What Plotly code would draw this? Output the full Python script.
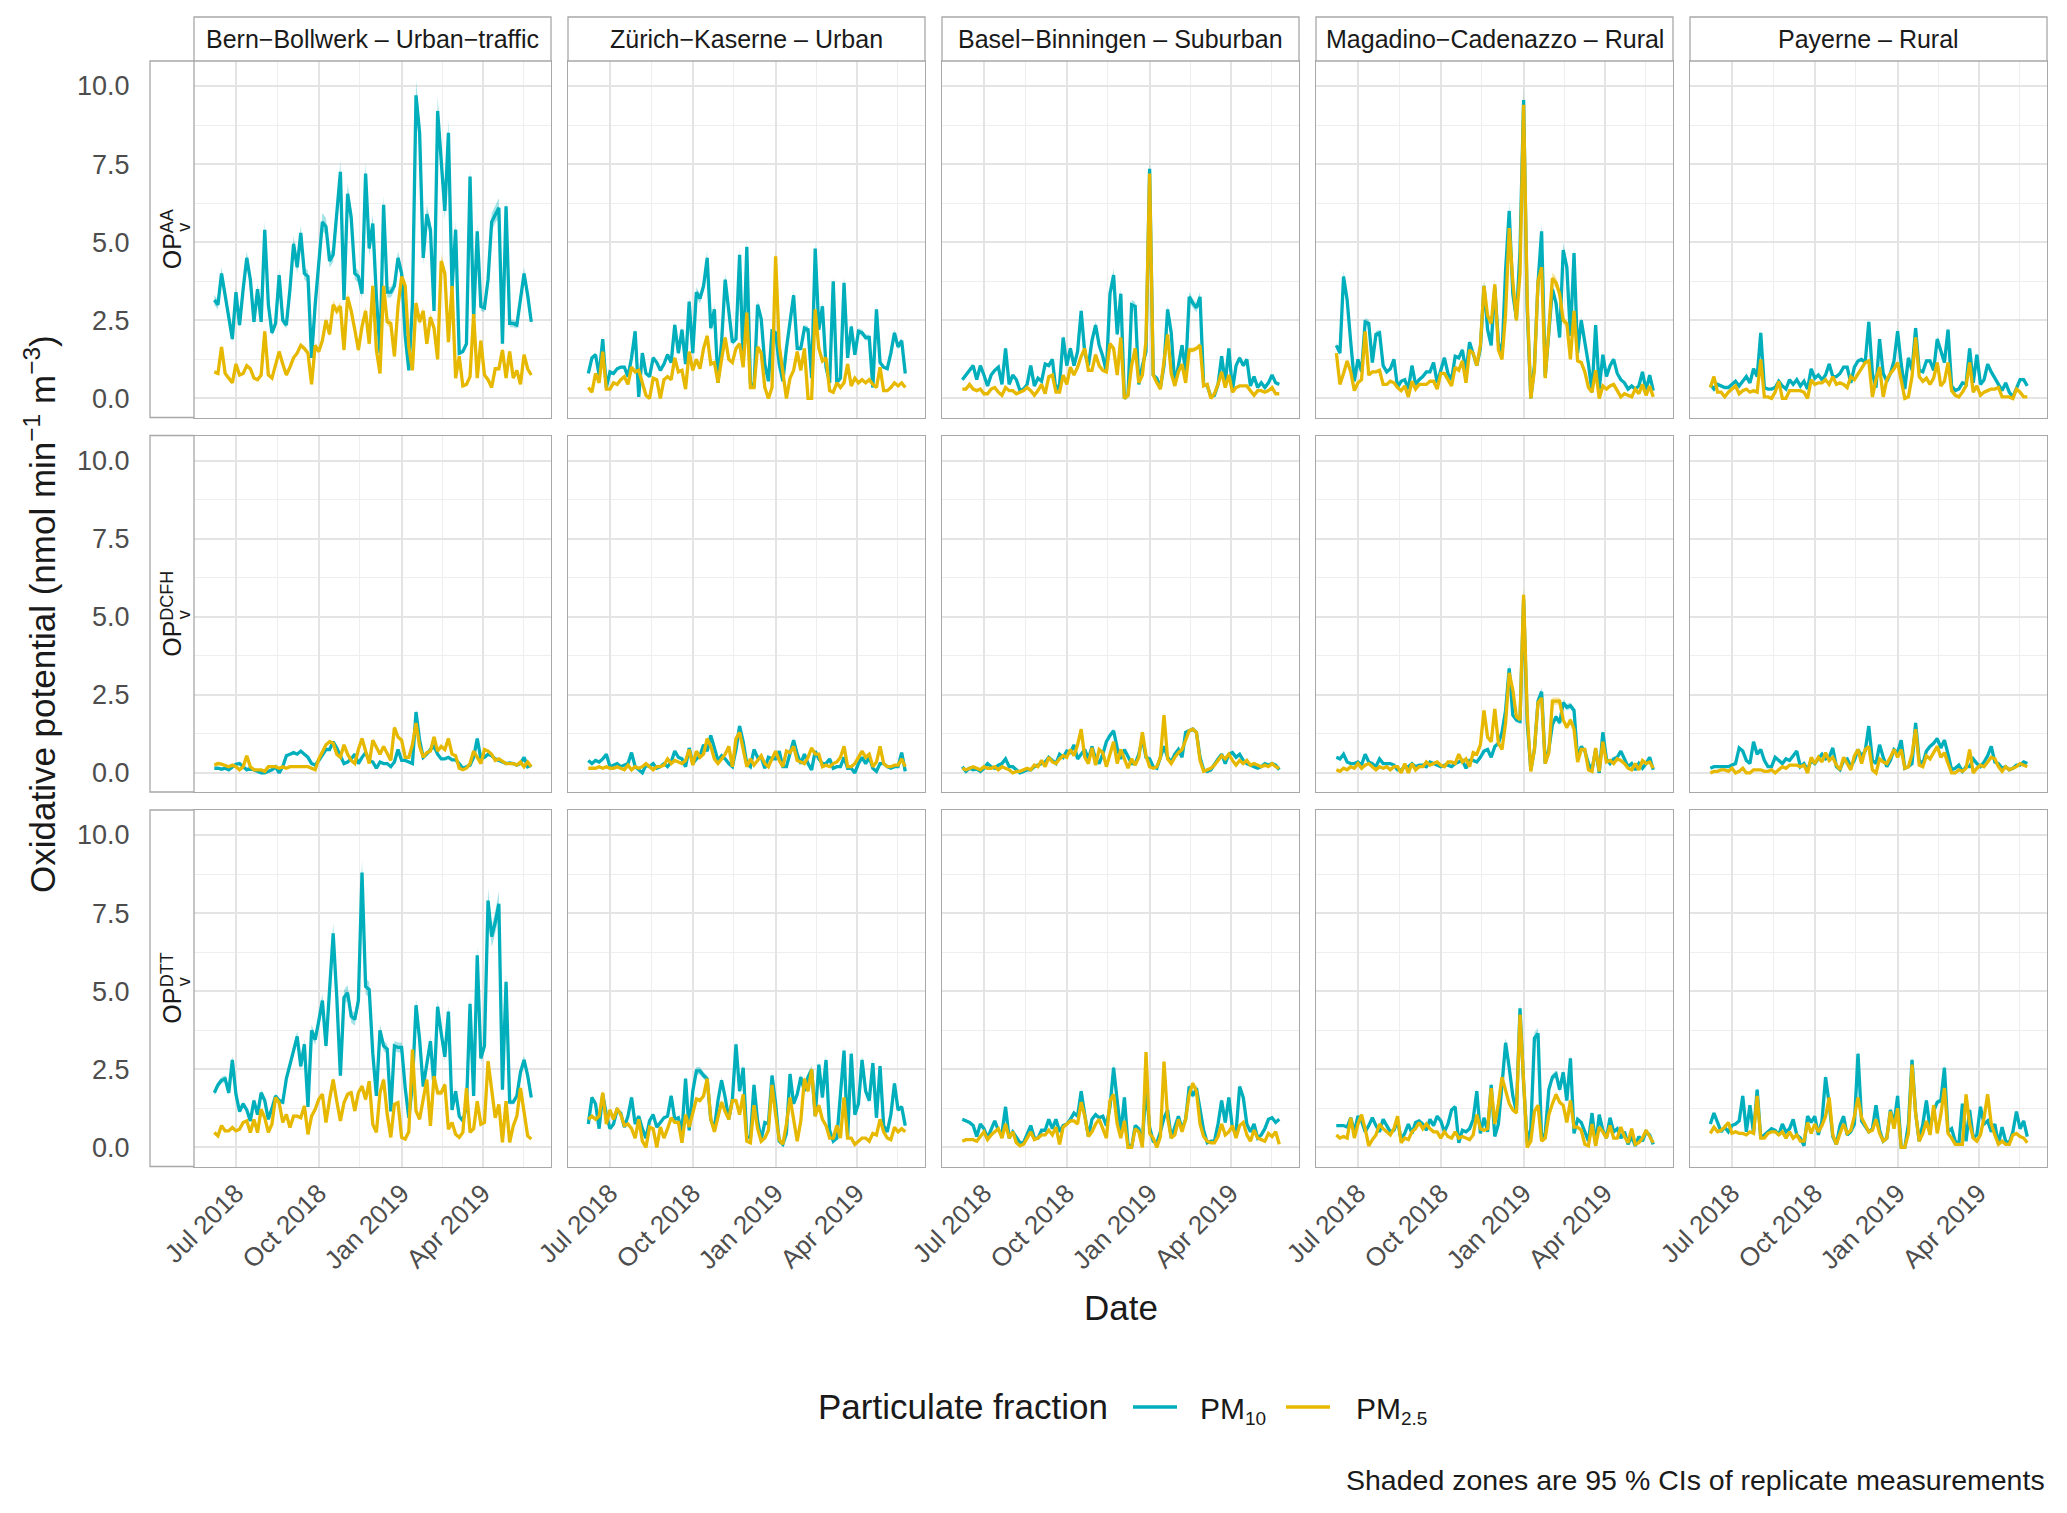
import pandas as pd
import plotly.graph_objects as go

W, H = 2067, 1513

# ---------------- data ----------------
DATES = pd.date_range("2018-06-07", periods=89, freq="4D")

SITES = ["Bern\u2212Bollwerk \u2013 Urban\u2212traffic",
         "Z\u00fcrich\u2212Kaserne \u2013 Urban",
         "Basel\u2212Binningen \u2013 Suburban",
         "Magadino\u2212Cadenazzo \u2013 Rural",
         "Payerne \u2013 Rural"]
ASSAYS = ["AA", "DCFH", "DTT"]
FRACTIONS = ["PM<sub>10</sub>", "PM<sub>2.5</sub>"]
FRACTION_SUBS = ["10", "2.5"]
Y_TICKS = [0.0, 2.5, 5.0, 7.5, 10.0]
X_TICKS = ["2018-07-01", "2018-10-01", "2019-01-01", "2019-04-01"]
CI_REL = 0.05  # approximate relative half-width of replicate CIs

BERN_AA_PM10 = [3.15, 3.0, 4.0, 3.3, 2.6, 1.9, 3.4, 2.35, 3.5, 4.5,
 3.8, 2.45, 3.5, 2.45, 5.4, 3.0, 2.1, 2.4, 3.95, 2.5,
 2.35, 3.5, 4.95, 4.2, 5.3, 4.0, 3.9, 1.3, 3.0, 4.2,
 5.65, 5.5, 4.4, 4.6, 6.0, 7.25, 3.15, 6.55, 5.8, 4.0,
 3.9, 3.35, 7.2, 4.8, 5.6, 3.25, 1.45, 6.2, 3.4, 3.4,
 3.6, 4.5, 4.0, 2.0, 0.9, 3.0, 9.7, 8.5, 4.5, 5.9,
 5.4, 2.8, 9.2, 7.6, 6.0, 8.5, 3.5, 5.4, 1.45, 1.5,
 1.75, 7.1, 2.55, 5.35, 2.95, 2.9, 3.8, 5.65, 5.9, 6.1,
 1.75, 6.15, 2.4, 2.4, 2.35, 3.2, 4.0, 3.3, 2.45]
BERN_AA_PM25 = [0.85, 0.8, 1.65, 0.8, 0.65, 0.5, 1.1, 0.75, 0.8, 1.05,
 0.95, 0.65, 0.6, 0.75, 2.15, 0.75, 0.65, 1.1, 1.5, 1.1,
 0.75, 1.0, 1.3, 1.45, 1.7, 1.6, 1.45, 0.45, 1.7, 1.5,
 1.85, 2.5, 2.05, 3.0, 2.8, 2.95, 1.55, 3.25, 2.8, 2.2,
 1.55, 2.3, 2.8, 1.75, 3.6, 1.55, 0.8, 3.6, 2.45, 2.4,
 1.35, 2.95, 3.9, 3.6, 1.65, 0.9, 3.05, 2.45, 2.8, 1.75,
 2.6, 2.25, 1.25, 4.4, 4.0, 1.8, 3.6, 0.65, 1.35, 0.4,
 0.45, 0.7, 2.7, 0.65, 1.85, 0.75, 0.6, 0.35, 0.95, 0.95,
 1.55, 0.65, 1.5, 0.65, 0.9, 0.45, 1.4, 0.95, 0.75]
BERN_DCFH_PM10 = [0.15, 0.15, 0.12, 0.15, 0.1, 0.2, 0.28, 0.3, 0.2, 0.1,
 0.15, 0.1, 0.05, 0.0, 0.0, 0.05, 0.1, 0.2, 0.0, 0.2,
 0.55, 0.6, 0.65, 0.6, 0.7, 0.6, 0.5, 0.3, 0.25, 0.4,
 0.6, 0.75, 0.75, 1.0, 0.8, 0.55, 0.3, 0.35, 0.45, 0.6,
 0.3, 0.5, 0.65, 0.4, 0.35, 0.15, 0.35, 0.3, 0.3, 0.2,
 0.35, 0.75, 0.4, 0.4, 0.35, 0.3, 1.95, 1.05, 0.5, 0.6,
 0.75, 0.85, 0.6, 0.45, 0.45, 0.5, 0.42, 0.42, 0.3, 0.15,
 0.2, 0.25, 0.5, 1.1, 0.45, 0.5, 0.6, 0.55, 0.45, 0.4,
 0.35, 0.3, 0.32, 0.3, 0.25, 0.3, 0.5, 0.2, 0.25]
BERN_DCFH_PM25 = [0.25, 0.3, 0.28, 0.25, 0.2, 0.25, 0.2, 0.1, 0.2, 0.55,
 0.2, 0.1, 0.1, 0.1, 0.05, 0.2, 0.2, 0.2, 0.15, 0.2,
 0.15, 0.2, 0.2, 0.2, 0.2, 0.2, 0.2, 0.15, 0.1, 0.45,
 0.7, 0.9, 1.0, 0.95, 0.6, 0.5, 0.9, 0.6, 0.4, 0.3,
 0.75, 1.1, 0.7, 0.3, 1.05, 0.8, 0.6, 0.85, 0.6, 0.4,
 1.45, 1.15, 1.05, 0.5, 0.5, 0.9, 1.6, 0.85, 0.5, 0.65,
 0.7, 1.15, 0.7, 0.85, 0.75, 1.1, 0.6, 0.55, 0.15, 0.1,
 0.15, 0.3, 0.7, 0.5, 0.3, 0.75, 0.7, 0.6, 0.4, 0.45,
 0.38, 0.3, 0.3, 0.3, 0.25, 0.35, 0.2, 0.35, 0.2]
BERN_DTT_PM10 = [1.75, 2.0, 2.15, 2.2, 1.75, 2.8, 1.7, 1.15, 1.4, 1.2,
 0.85, 1.5, 1.05, 1.75, 1.5, 0.9, 1.25, 1.65, 1.5, 1.45,
 2.2, 2.7, 3.1, 3.55, 2.6, 3.3, 1.3, 3.75, 3.45, 4.05,
 4.7, 3.25, 4.95, 6.85, 4.8, 2.3, 4.8, 4.95, 4.2, 4.1,
 4.7, 8.8, 5.15, 5.05, 3.0, 1.65, 3.75, 3.25, 3.15, 1.15,
 3.25, 3.2, 3.2, 1.9, 0.95, 2.0, 4.55, 3.45, 1.95, 2.7,
 3.4, 1.95, 4.5, 3.65, 2.9, 4.35, 1.2, 1.8, 1.0, 0.85,
 1.3, 4.6, 1.65, 6.15, 2.85, 3.25, 7.9, 6.75, 7.2, 7.8,
 1.85, 5.3, 1.45, 1.45, 1.65, 2.4, 2.8, 2.3, 1.6]
BERN_DTT_PM25 = [0.48, 0.37, 0.7, 0.53, 0.53, 0.64, 0.53, 0.58, 0.8, 0.85,
 0.48, 0.9, 0.48, 1.22, 0.95, 0.48, 0.75, 1.6, 1.43, 0.8,
 1.06, 0.64, 1.0, 1.0, 0.95, 1.33, 0.42, 1.0, 1.22, 1.54,
 1.7, 0.8, 1.54, 2.17, 1.48, 0.85, 1.43, 1.7, 1.75, 1.17,
 1.75, 1.96, 1.54, 2.12, 0.74, 0.48, 1.75, 2.17, 1.06, 0.32,
 1.38, 1.43, 0.32, 0.27, 0.5, 3.13, 1.17, 0.9, 1.54, 2.17,
 0.69, 2.28, 1.75, 1.75, 2.01, 0.58, 0.8, 0.42, 0.32, 0.48,
 1.9, 0.48, 0.6, 1.48, 0.74, 0.8, 2.76, 1.75, 0.95, 1.38,
 0.16, 1.48, 0.16, 0.69, 1.0, 1.9, 1.1, 0.37, 0.27]

ZURICH_AA_PM10 = [0.8, 1.3, 1.4, 0.75, 1.9, 0.35, 0.85, 0.8, 0.95, 1.0,
 1.0, 0.7, 1.3, 2.15, 0.05, 1.45, 0.8, 0.7, 1.3, 1.15,
 0.9, 1.1, 1.4, 1.15, 2.35, 1.45, 2.2, 1.1, 3.1, 1.45,
 3.4, 3.2, 3.6, 4.5, 2.25, 2.85, 0.5, 1.8, 3.8, 2.9,
 1.8, 1.9, 4.6, 1.1, 4.85, 0.5, 0.35, 3.0, 2.55, 1.1,
 0.55, 2.15, 2.1, 1.1, 0.55, 1.6, 2.5, 3.3, 1.6, 1.6,
 2.25, 2.2, 0.65, 4.8, 2.2, 2.95, 1.0, 0.5, 3.75, 0.5,
 0.65, 3.7, 1.3, 2.3, 1.4, 2.15, 2.1, 1.95, 1.95, 0.35,
 2.85, 1.15, 1.0, 0.95, 1.45, 2.1, 1.65, 1.85, 0.8]
ZURICH_AA_PM25 = [0.35, 0.2, 0.8, 0.5, 1.5, 0.3, 0.3, 0.5, 0.45, 0.6,
 0.7, 0.45, 1.0, 0.85, 0.9, 0.5, 0.1, 0.0, 0.65, 0.6,
 0.0, 0.6, 0.7, 0.6, 1.3, 0.85, 0.9, 0.3, 1.5, 0.9,
 1.25, 0.95, 1.6, 2.0, 1.1, 1.15, 0.5, 1.25, 1.95, 1.25,
 1.15, 1.6, 1.75, 1.0, 2.75, 0.35, 0.35, 1.65, 1.45, 0.35,
 0.0, 0.35, 4.55, 1.7, 0.75, 0.0, 0.65, 0.9, 1.5, 0.9,
 1.6, 0.0, 0.0, 2.85, 1.6, 1.2, 1.3, 0.25, 0.2, 0.5,
 0.35, 0.5, 1.1, 0.4, 0.65, 0.5, 0.6, 0.5, 0.6, 0.45,
 0.35, 1.0, 0.25, 0.25, 0.35, 0.5, 0.4, 0.5, 0.35]
ZURICH_DCFH_PM10 = [0.4, 0.3, 0.4, 0.35, 0.45, 0.6, 0.2, 0.25, 0.3, 0.2,
 0.25, 0.3, 0.65, 0.2, 0.1, 0.0, 0.25, 0.2, 0.3, 0.15,
 0.2, 0.3, 0.2, 0.35, 0.7, 0.5, 0.45, 0.2, 0.8, 0.3,
 0.45, 0.55, 0.9, 0.7, 1.2, 0.75, 0.4, 0.55, 0.45, 0.3,
 0.2, 0.75, 1.5, 1.0, 0.3, 0.2, 0.75, 0.5, 0.5, 0.15,
 0.5, 0.45, 0.45, 0.7, 0.2, 0.2, 0.6, 1.05, 0.6, 0.3,
 0.6, 0.3, 0.1, 0.7, 0.45, 0.3, 0.3, 0.45, 0.15, 0.2,
 0.2, 0.5, 0.15, 0.15, 0.0, 0.3, 0.5, 0.3, 0.5, 0.15,
 0.05, 0.3, 0.3, 0.2, 0.15, 0.2, 0.2, 0.65, 0.05]
ZURICH_DCFH_PM25 = [0.15, 0.15, 0.15, 0.2, 0.15, 0.2, 0.15, 0.15, 0.2, 0.15,
 0.1, 0.25, 0.1, 0.2, 0.15, 0.2, 0.3, 0.2, 0.1, 0.2,
 0.2, 0.25, 0.45, 0.3, 0.4, 0.35, 0.3, 0.4, 0.75, 0.25,
 0.7, 0.5, 0.6, 1.1, 0.85, 0.45, 0.3, 0.45, 0.6, 0.85,
 0.2, 1.1, 1.3, 0.75, 0.2, 0.45, 0.25, 0.4, 0.55, 0.3,
 0.2, 0.45, 0.7, 0.4, 0.2, 0.7, 0.65, 0.85, 0.4, 0.35,
 0.3, 0.5, 0.8, 0.6, 0.6, 0.2, 0.25, 0.2, 0.3, 0.35,
 0.5, 0.85, 0.2, 0.2, 0.3, 0.5, 0.7, 0.5, 0.6, 0.2,
 0.35, 0.85, 0.3, 0.2, 0.2, 0.25, 0.25, 0.45, 0.2]
ZURICH_DTT_PM10 = [0.75, 1.6, 1.4, 0.6, 1.7, 1.05, 0.6, 0.75, 1.2, 1.1,
 0.65, 1.0, 1.6, 0.75, 1.0, 0.6, 0.3, 0.85, 1.05, 0.65,
 0.8, 0.95, 1.0, 1.65, 0.9, 0.95, 0.5, 2.2, 0.55, 1.8,
 2.45, 2.45, 2.3, 2.2, 0.9, 0.6, 1.5, 2.15, 1.6, 0.9,
 1.55, 3.3, 1.8, 2.55, 0.35, 0.3, 2.0, 0.85, 0.25, 0.8,
 0.75, 2.3, 1.4, 0.2, 0.1, 0.45, 2.35, 1.4, 1.7, 2.25,
 1.8, 2.25, 2.5, 1.0, 2.65, 1.6, 2.8, 0.55, 0.2, 0.3,
 1.7, 3.1, 0.3, 3.0, 1.05, 1.4, 2.8, 1.8, 1.5, 2.7,
 0.95, 2.6, 0.7, 0.5, 1.05, 2.05, 1.2, 1.3, 0.7]
ZURICH_DTT_PM25 = [0.9, 1.0, 0.9, 1.0, 1.75, 0.75, 1.2, 0.9, 1.25, 1.05,
 0.7, 0.75, 0.6, 0.3, 0.9, 0.2, 0.0, 0.65, 0.6, 0.0,
 0.65, 0.3, 0.6, 0.95, 0.8, 0.8, 0.15, 1.05, 0.65, 1.1,
 1.55, 1.5, 1.65, 2.2, 0.9, 0.5, 1.0, 1.45, 1.15, 0.9,
 1.5, 1.5, 1.05, 1.7, 0.2, 0.15, 1.35, 0.6, 0.2, 0.3,
 0.55, 2.0, 1.05, 0.25, 0.1, 0.75, 1.6, 0.85, 0.2, 0.85,
 2.2, 1.8, 2.5, 1.0, 1.35, 0.9, 0.7, 0.3, 0.3, 0.7,
 0.3, 1.6, 0.3, 0.3, 0.1, 0.2, 0.3, 0.3, 0.2, 0.45,
 0.4, 0.9, 0.5, 0.3, 0.25, 0.65, 0.5, 0.6, 0.5]

BASEL_AA_PM10 = [0.6, 0.75, 0.9, 1.05, 0.6, 1.05, 0.75, 0.4, 0.75, 0.9,
 1.0, 0.45, 1.6, 0.45, 0.75, 0.6, 0.25, 0.3, 0.45, 1.05,
 0.4, 0.65, 0.55, 1.1, 1.05, 1.25, 0.25, 0.45, 1.95, 1.05,
 1.6, 1.05, 1.5, 2.8, 1.45, 1.05, 1.85, 2.35, 1.7, 1.35,
 0.85, 3.35, 3.95, 2.05, 3.35, 0.0, 0.1, 3.0, 2.95, 0.45,
 1.05, 1.5, 7.35, 0.75, 0.65, 0.35, 1.05, 2.85, 2.1, 0.45,
 1.05, 1.7, 0.85, 3.25, 3.05, 2.9, 3.25, 0.45, 0.4, 0.07,
 0.1, 0.45, 1.35, 0.5, 1.6, 0.25, 1.05, 1.3, 1.05, 1.25,
 0.4, 0.7, 0.35, 0.5, 0.35, 0.5, 0.75, 0.5, 0.45]
BASEL_AA_PM25 = [0.3, 0.3, 0.45, 0.3, 0.25, 0.3, 0.15, 0.15, 0.3, 0.35,
 0.2, 0.1, 0.35, 0.25, 0.25, 0.15, 0.2, 0.25, 0.35, 0.25,
 0.1, 0.25, 0.45, 0.15, 0.7, 0.75, 0.2, 0.2, 0.75, 0.45,
 1.0, 0.75, 1.0, 1.35, 1.6, 0.9, 0.9, 1.4, 1.05, 0.9,
 0.85, 1.75, 1.6, 0.75, 1.95, 0.0, 0.1, 1.05, 1.6, 0.5,
 0.75, 1.85, 7.2, 0.75, 0.5, 0.3, 1.2, 2.05, 0.8, 0.4,
 0.85, 1.1, 0.5, 1.55, 1.55, 1.6, 1.7, 0.4, 0.45, 0.0,
 0.15, 0.45, 0.85, 0.35, 0.75, 0.2, 0.35, 0.4, 0.4, 0.4,
 0.25, 0.1, 0.25, 0.25, 0.2, 0.25, 0.35, 0.15, 0.15]
BASEL_DCFH_PM10 = [0.2, 0.05, 0.15, 0.1, 0.12, 0.05, 0.15, 0.3, 0.2, 0.15,
 0.25, 0.3, 0.45, 0.2, 0.2, 0.1, 0.0, 0.05, 0.1, 0.1,
 0.2, 0.25, 0.3, 0.35, 0.5, 0.4, 0.3, 0.6, 0.5, 0.7,
 0.65, 0.9, 0.45, 0.6, 0.75, 0.45, 0.85, 0.45, 0.3, 0.6,
 1.0, 1.2, 1.35, 0.8, 0.45, 0.75, 0.5, 0.3, 0.3, 0.6,
 1.1, 0.5, 0.45, 0.2, 0.15, 0.5, 0.85, 0.5, 0.35, 0.6,
 0.75, 0.5, 1.3, 1.35, 1.4, 1.3, 0.5, 0.1, 0.05, 0.1,
 0.3, 0.45, 0.6, 0.3, 0.6, 0.65, 0.5, 0.6, 0.4, 0.3,
 0.25, 0.2, 0.15, 0.2, 0.3, 0.25, 0.3, 0.25, 0.1]
BASEL_DCFH_PM25 = [0.15, 0.1, 0.15, 0.2, 0.15, 0.1, 0.2, 0.15, 0.15, 0.2,
 0.1, 0.2, 0.15, 0.1, 0.0, 0.05, 0.05, 0.1, 0.15, 0.1,
 0.25, 0.2, 0.4, 0.2, 0.5, 0.35, 0.3, 0.45, 0.55, 0.5,
 0.75, 0.55, 0.9, 1.4, 0.5, 0.3, 0.8, 0.25, 0.75, 0.65,
 0.2, 0.6, 1.0, 0.3, 0.75, 0.45, 0.15, 0.45, 0.25, 0.5,
 1.3, 0.55, 0.2, 0.15, 0.2, 0.5, 1.85, 0.45, 0.3, 0.5,
 0.65, 0.75, 1.05, 1.35, 1.4, 1.3, 0.4, 0.05, 0.1, 0.15,
 0.25, 0.4, 0.55, 0.45, 0.6, 0.4, 0.25, 0.4, 0.3, 0.4,
 0.25, 0.3, 0.25, 0.2, 0.25, 0.2, 0.3, 0.2, 0.15]
BASEL_DTT_PM10 = [0.9, 0.85, 0.8, 0.7, 0.35, 0.75, 0.6, 0.3, 0.55, 0.85,
 0.55, 0.45, 1.3, 0.3, 0.5, 0.3, 0.15, 0.15, 0.45, 0.7,
 0.3, 0.3, 0.55, 0.55, 0.9, 0.6, 0.9, 0.5, 0.7, 0.75,
 0.9, 1.1, 1.0, 1.8, 1.05, 0.35, 0.9, 1.05, 0.95, 1.0,
 0.7, 1.3, 2.55, 1.45, 0.45, 1.6, 0.1, 0.0, 0.7, 0.6,
 0.2, 1.9, 0.65, 0.2, 0.15, 0.5, 0.95, 1.2, 0.3, 0.65,
 1.0, 0.6, 0.9, 1.95, 1.65, 1.9, 1.15, 0.55, 0.15, 0.2,
 0.2, 0.75, 1.5, 0.8, 1.6, 0.6, 0.5, 1.95, 1.6, 0.75,
 0.5, 0.75, 0.3, 0.4, 0.6, 0.9, 0.95, 0.8, 0.9]
BASEL_DTT_PM25 = [0.2, 0.25, 0.25, 0.25, 0.2, 0.35, 0.5, 0.25, 0.4, 0.5,
 0.6, 0.3, 0.75, 0.3, 0.5, 0.15, 0.05, 0.1, 0.3, 0.5,
 0.25, 0.3, 0.4, 0.4, 0.55, 0.4, 0.65, 0.1, 0.65, 0.75,
 0.85, 0.85, 0.75, 1.45, 1.0, 0.35, 0.5, 0.75, 0.9, 0.6,
 0.3, 1.5, 1.7, 0.75, 0.3, 0.85, 0.0, 0.0, 0.6, 0.5,
 0.0, 3.05, 0.45, 0.3, 0.0, 0.35, 2.75, 0.95, 0.3, 0.4,
 0.9, 0.5, 0.9, 1.7, 2.05, 1.8, 0.75, 0.35, 0.2, 0.15,
 0.15, 0.35, 0.75, 0.4, 0.5, 0.7, 0.3, 0.7, 0.8, 0.4,
 0.2, 0.55, 0.3, 0.25, 0.2, 0.45, 0.35, 0.5, 0.1]

MAGADINO_AA_PM10 = [1.7, 1.45, 3.9, 3.15, 1.8, 0.55, 1.25, 0.85, 2.45, 2.4,
 1.15, 2.05, 2.1, 1.05, 0.85, 0.95, 1.25, 0.35, 0.55, 0.6,
 0.3, 1.05, 0.45, 0.6, 0.7, 0.85, 0.85, 1.15, 0.5, 0.9,
 1.3, 0.8, 0.6, 1.35, 1.3, 1.55, 0.85, 1.8, 1.4, 1.05,
 1.6, 3.6, 2.2, 1.7, 3.55, 1.8, 1.4, 4.1, 6.0, 3.35,
 2.55, 4.75, 9.55, 2.85, 0.0, 1.05, 3.7, 5.35, 0.7, 2.2,
 3.5, 3.05, 1.95, 4.75, 4.2, 2.0, 4.65, 1.45, 2.5, 1.8,
 1.1, 0.2, 2.35, 0.3, 1.4, 0.7, 1.05, 1.25, 0.8, 0.6,
 0.5, 0.3, 0.4, 0.3, 0.4, 0.85, 0.25, 0.75, 0.25]
MAGADINO_AA_PM25 = [1.45, 0.45, 0.8, 1.2, 0.85, 0.25, 0.5, 0.6, 2.15, 0.75,
 0.85, 0.85, 0.9, 0.45, 0.45, 0.55, 0.5, 0.35, 0.25, 0.4,
 0.05, 0.55, 0.3, 0.45, 0.45, 0.45, 0.55, 0.55, 0.3, 0.8,
 0.8, 0.6, 0.4, 1.0, 0.9, 1.2, 0.5, 1.55, 1.45, 1.05,
 1.7, 3.6, 2.65, 2.4, 3.65, 1.55, 1.25, 2.7, 5.45, 3.75,
 2.5, 4.0, 9.4, 3.15, 0.0, 0.9, 3.75, 4.2, 0.65, 2.2,
 3.85, 3.7, 3.35, 2.5, 2.4, 1.25, 2.8, 1.2, 1.15, 0.85,
 0.35, 0.2, 0.9, 0.0, 0.4, 0.3, 0.4, 0.45, 0.25, 0.05,
 0.15, 0.1, 0.05, 0.3, 0.15, 0.45, 0.1, 0.4, 0.05]
MAGADINO_DCFH_PM10 = [0.5, 0.45, 0.6, 0.35, 0.3, 0.3, 0.35, 0.25, 0.6, 0.35,
 0.3, 0.2, 0.45, 0.3, 0.3, 0.3, 0.25, 0.1, 0.1, 0.2,
 0.2, 0.3, 0.2, 0.25, 0.25, 0.2, 0.35, 0.3, 0.25, 0.2,
 0.25, 0.25, 0.2, 0.3, 0.35, 0.4, 0.15, 0.4, 0.4, 0.35,
 0.5, 0.7, 0.75, 0.5, 0.85, 0.95, 1.3, 2.0, 3.35, 1.85,
 1.7, 1.65, 5.55, 1.6, 0.1, 0.75, 2.3, 2.6, 0.3, 0.75,
 1.55, 1.8, 1.6, 2.25, 2.1, 2.15, 2.0, 0.45, 0.85, 0.7,
 0.3, 0.1, 0.75, 0.0, 1.3, 0.45, 0.3, 0.45, 0.5, 0.7,
 0.45, 0.2, 0.3, 0.1, 0.3, 0.15, 0.3, 0.5, 0.1]
MAGADINO_DCFH_PM25 = [0.1, 0.05, 0.15, 0.1, 0.2, 0.15, 0.3, 0.15, 0.25, 0.3,
 0.2, 0.1, 0.2, 0.15, 0.2, 0.1, 0.2, 0.2, 0.0, 0.3,
 0.0, 0.3, 0.1, 0.2, 0.2, 0.35, 0.25, 0.3, 0.35, 0.25,
 0.2, 0.35, 0.35, 0.3, 0.6, 0.35, 0.45, 0.2, 0.65, 0.6,
 0.9, 2.0, 1.15, 1.0, 2.05, 0.95, 0.75, 1.6, 3.2, 2.65,
 1.8, 1.7, 5.7, 1.9, 0.05, 0.75, 2.25, 2.4, 0.3, 0.65,
 2.3, 2.3, 2.3, 1.7, 1.45, 1.7, 1.4, 0.35, 0.75, 0.75,
 0.1, 0.05, 0.8, 0.05, 1.0, 0.35, 0.4, 0.3, 0.45, 0.4,
 0.3, 0.15, 0.1, 0.3, 0.1, 0.4, 0.3, 0.35, 0.15]
MAGADINO_DTT_PM10 = [0.7, 0.7, 0.7, 0.65, 0.95, 0.5, 1.0, 0.85, 0.5, 0.7,
 0.95, 0.7, 0.5, 0.9, 0.7, 0.5, 0.55, 0.85, 0.25, 0.45,
 0.75, 0.45, 0.8, 0.85, 0.75, 0.55, 0.9, 0.7, 1.0, 0.85,
 0.5, 0.75, 1.2, 1.3, 0.15, 0.55, 0.5, 0.6, 0.9, 1.8,
 0.45, 0.95, 0.5, 2.0, 0.35, 0.75, 2.0, 3.35, 2.55, 1.65,
 1.15, 4.45, 2.05, 0.15, 0.6, 3.5, 3.65, 0.25, 0.45, 1.85,
 2.25, 2.35, 1.85, 2.4, 1.5, 2.85, 0.45, 0.9, 0.8, 0.5,
 0.2, 1.1, 0.1, 1.05, 0.55, 0.3, 0.95, 0.5, 0.6, 0.3,
 0.5, 0.1, 0.35, 0.05, 0.35, 0.2, 0.5, 0.4, 0.1]
MAGADINO_DTT_PM25 = [0.4, 0.3, 0.35, 0.3, 0.95, 0.3, 0.75, 1.05, 0.6, 0.05,
 0.25, 0.4, 0.75, 0.6, 0.5, 0.4, 0.6, 1.0, 0.15, 0.3,
 0.25, 0.5, 0.6, 0.8, 0.6, 0.75, 0.6, 0.5, 0.5, 0.3,
 0.5, 0.35, 0.3, 0.5, 0.3, 0.35, 0.3, 0.25, 0.4, 1.05,
 0.6, 0.55, 0.6, 1.9, 0.75, 1.4, 2.25, 1.85, 1.4, 1.2,
 1.1, 4.25, 1.85, 0.0, 0.2, 1.15, 1.35, 0.2, 0.3, 1.05,
 1.4, 1.7, 1.45, 1.35, 0.8, 1.5, 0.65, 0.65, 0.55, 0.1,
 0.05, 0.75, 0.05, 0.65, 0.5, 0.3, 0.7, 0.3, 0.3, 0.65,
 0.35, 0.15, 0.6, 0.1, 0.15, 0.3, 0.55, 0.35, 0.15]

PAYERNE_AA_PM10 = [0.45, 0.3, 0.45, 0.4, 0.35, 0.35, 0.45, 0.55, 0.4, 0.55,
 0.7, 0.5, 0.95, 0.7, 2.1, 0.35, 0.3, 0.3, 0.35, 0.55,
 0.4, 0.3, 0.6, 0.45, 0.6, 0.4, 0.55, 0.3, 0.95, 0.65,
 0.75, 0.6, 0.75, 1.1, 0.7, 0.7, 0.8, 1.0, 1.0, 0.5,
 1.0, 1.2, 1.25, 1.15, 2.45, 0.8, 0.35, 1.9, 0.8, 0.55,
 0.8, 1.2, 2.15, 1.1, 0.3, 1.3, 0.9, 2.25, 0.9, 0.85,
 1.2, 1.2, 0.9, 1.9, 1.55, 1.15, 2.2, 0.4, 0.25, 0.3,
 0.5, 0.45, 1.6, 0.5, 1.4, 0.45, 0.6, 1.1, 0.85, 0.65,
 0.5, 0.25, 0.5, 0.2, 0.05, 0.3, 0.6, 0.6, 0.4]
PAYERNE_AA_PM25 = [0.35, 0.7, 0.2, 0.2, 0.05, 0.2, 0.3, 0.4, 0.15, 0.25,
 0.3, 0.2, 0.25, 0.2, 1.25, 0.05, 0.05, 0.0, 0.2, 0.55,
 0.0, 0.0, 0.25, 0.25, 0.25, 0.25, 0.2, 0.0, 0.6, 0.45,
 0.5, 0.5, 0.6, 0.45, 0.7, 0.45, 0.5, 0.45, 0.35, 0.7,
 0.6, 0.8, 0.95, 1.15, 1.2, 0.05, 0.6, 1.0, 0.05, 0.6,
 0.8, 0.95, 1.15, 0.6, 0.0, 0.05, 0.7, 1.95, 0.7, 0.55,
 0.65, 0.45, 0.65, 1.15, 0.4, 0.55, 1.15, 0.25, 0.1, 0.05,
 0.2, 0.4, 1.15, 0.2, 0.4, 0.1, 0.2, 0.25, 0.3, 0.3,
 0.35, 0.05, 0.05, 0.05, 0.0, 0.3, 0.2, 0.05, 0.05]
PAYERNE_DCFH_PM10 = [0.15, 0.2, 0.2, 0.2, 0.2, 0.2, 0.25, 0.3, 0.8, 0.7,
 0.4, 0.3, 1.0, 0.6, 0.75, 0.4, 0.2, 0.2, 0.5, 0.4,
 0.3, 0.45, 0.4, 0.55, 0.7, 0.2, 0.3, 0.1, 0.4, 0.3,
 0.45, 0.6, 0.45, 0.5, 0.8, 0.2, 0.1, 0.4, 0.45, 0.2,
 0.4, 0.75, 0.55, 0.7, 1.5, 0.4, 0.3, 0.9, 0.5, 0.2,
 0.4, 0.75, 0.65, 1.05, 0.15, 0.2, 0.3, 1.6, 0.4, 0.3,
 0.7, 0.85, 0.95, 1.1, 0.8, 1.05, 0.6, 0.1, 0.15, 0.25,
 0.05, 0.2, 0.2, 0.45, 0.3, 0.2, 0.35, 0.55, 0.85, 0.35,
 0.3, 0.15, 0.2, 0.1, 0.15, 0.25, 0.25, 0.35, 0.3]
PAYERNE_DCFH_PM25 = [0.0, 0.05, 0.05, 0.1, 0.1, 0.05, 0.15, 0.0, 0.05, 0.15,
 0.0, 0.0, 0.1, 0.1, 0.1, 0.05, 0.05, 0.1, 0.0, 0.1,
 0.2, 0.15, 0.25, 0.25, 0.25, 0.2, 0.25, 0.0, 0.5, 0.3,
 0.5, 0.35, 0.65, 0.4, 0.5, 0.25, 0.1, 0.5, 0.3, 0.1,
 0.55, 0.75, 0.3, 0.75, 0.85, 0.1, 0.0, 0.45, 0.35, 0.3,
 0.5, 0.75, 0.5, 0.75, 0.15, 0.2, 0.6, 1.4, 0.25, 0.2,
 0.55, 0.45, 0.65, 0.85, 0.5, 0.65, 0.3, 0.0, 0.0, 0.1,
 0.05, 0.15, 0.75, 0.0, 0.15, 0.25, 0.2, 0.35, 0.5, 0.45,
 0.2, 0.05, 0.2, 0.1, 0.15, 0.2, 0.3, 0.25, 0.2]
PAYERNE_DTT_PM10 = [0.75, 1.1, 0.8, 0.5, 0.65, 0.5, 0.7, 0.75, 0.85, 1.65,
 0.5, 1.35, 0.45, 1.85, 0.3, 0.4, 0.5, 0.6, 0.55, 0.4,
 0.75, 0.5, 0.6, 0.9, 0.4, 0.3, 0.05, 1.0, 0.8, 1.0,
 0.4, 0.85, 2.25, 1.4, 0.35, 0.1, 0.7, 1.0, 0.4, 0.5,
 0.75, 3.0, 0.85, 0.65, 0.5, 0.6, 1.35, 0.55, 0.2, 0.3,
 1.2, 0.75, 1.65, 0.0, 0.0, 0.75, 2.8, 1.1, 0.2, 0.75,
 1.5, 0.6, 1.15, 1.45, 1.5, 2.55, 0.5, 0.6, 0.2, 0.1,
 1.4, 0.2, 1.2, 0.3, 0.4, 1.3, 0.75, 0.85, 0.5, 0.75,
 0.1, 0.65, 0.2, 0.15, 0.5, 1.15, 0.6, 0.85, 0.35]
PAYERNE_DTT_PM25 = [0.45, 0.65, 0.5, 0.55, 0.65, 0.8, 0.45, 0.5, 0.45, 0.45,
 0.4, 0.5, 0.45, 1.65, 0.3, 0.3, 0.45, 0.5, 0.5, 0.4,
 0.5, 0.3, 0.5, 0.3, 0.4, 0.2, 0.2, 0.8, 0.45, 0.75,
 0.5, 0.7, 1.0, 1.6, 0.4, 0.1, 0.45, 0.75, 0.45, 0.55,
 1.0, 1.6, 0.95, 0.75, 0.5, 0.55, 0.9, 0.45, 0.2, 0.3,
 1.15, 0.6, 1.25, 0.0, 0.0, 0.45, 2.65, 1.1, 0.2, 0.45,
 0.85, 0.4, 1.35, 0.45, 1.05, 1.9, 0.45, 0.3, 0.1, 0.1,
 0.1, 1.7, 0.75, 0.3, 0.2, 0.4, 0.95, 1.7, 0.75, 0.4,
 0.1, 0.2, 0.1, 0.1, 0.4, 0.45, 0.35, 0.3, 0.15]

# table built from the named arrays: SERIES[site][assay] = (PM10, PM2.5)
SERIES = [
    [(BERN_AA_PM10, BERN_AA_PM25), (BERN_DCFH_PM10, BERN_DCFH_PM25), (BERN_DTT_PM10, BERN_DTT_PM25)],
    [(ZURICH_AA_PM10, ZURICH_AA_PM25), (ZURICH_DCFH_PM10, ZURICH_DCFH_PM25), (ZURICH_DTT_PM10, ZURICH_DTT_PM25)],
    [(BASEL_AA_PM10, BASEL_AA_PM25), (BASEL_DCFH_PM10, BASEL_DCFH_PM25), (BASEL_DTT_PM10, BASEL_DTT_PM25)],
    [(MAGADINO_AA_PM10, MAGADINO_AA_PM25), (MAGADINO_DCFH_PM10, MAGADINO_DCFH_PM25), (MAGADINO_DTT_PM10, MAGADINO_DTT_PM25)],
    [(PAYERNE_AA_PM10, PAYERNE_AA_PM25), (PAYERNE_DCFH_PM10, PAYERNE_DCFH_PM25), (PAYERNE_DTT_PM10, PAYERNE_DTT_PM25)],
]

# ---------------- style / layout ----------------
FONT = "Liberation Sans, Arial, Helvetica, sans-serif"
COLORS = ["#00AFBB", "#E7B800"]
FILLS = ["rgba(0,175,187,0.35)", "rgba(231,184,0,0.35)"]
BORDER = "#a8a8a8"
GRID = "#e4e4e4"
GRID_MINOR = "#eeeeee"
TXT = "#1a1a1a"
TICK_TXT = "#4d4d4d"

PAGE_OFFSET = 8  # the page body margin shifts the figure by this much
COL_LEFT = [194 + c * 374 for c in range(5)]
PANEL_W = 357
ROW_TOP = [61, 435.5, 810]
PANEL_H = 356.5
STRIP_TOP = 17
STRIP_LEFT = 150

CHAR_W = {"O": .778, "P": .667, "A": .667, "D": .722, "C": .722,
          "F": .611, "H": .722, "T": .611}


def text_len(s, size):
    return sum(CHAR_W[ch] for ch in s) * size


def px(x):
    return (x - PAGE_OFFSET) / W


def py(y):
    return 1 - (y - PAGE_OFFSET) / H


fig = go.Figure()
layout_axes = {}

for r, assay in enumerate(ASSAYS):
    for c, site in enumerate(SITES):
        n = r * 5 + c + 1
        xa = "x" if n == 1 else f"x{n}"
        ya = "y" if n == 1 else f"y{n}"
        xk = "xaxis" if n == 1 else f"xaxis{n}"
        yk = "yaxis" if n == 1 else f"yaxis{n}"
        layout_axes[xk] = dict(
            domain=[px(COL_LEFT[c]), px(COL_LEFT[c] + PANEL_W)],
            anchor=ya, type="date", automargin=False,
            range=["2018-05-15 10:00", "2019-06-15 22:00"],
            tickmode="array", tickvals=X_TICKS, tickformat="%b %Y",
            showticklabels=(r == 2), tickangle=-45,
            tickfont=dict(size=26, color=TICK_TXT, family=FONT),
            ticks="", showgrid=True, gridcolor=GRID, gridwidth=2.4,
            minor=dict(tickmode="array",
                       tickvals=["2018-08-16", "2018-11-15", "2019-02-15", "2019-05-16"],
                       showgrid=True, gridcolor=GRID_MINOR, gridwidth=1.4),
            showline=True, mirror=True, linecolor=BORDER, linewidth=1.3,
            zeroline=False, fixedrange=True,
        )
        layout_axes[yk] = dict(
            domain=[py(ROW_TOP[r] + PANEL_H), py(ROW_TOP[r])],
            anchor=xa, range=[-0.61, 10.80], automargin=False,
            tickmode="array", tickvals=Y_TICKS, tickformat=".1f",
            showticklabels=(c == 0), ticklabelstandoff=58,
            tickfont=dict(size=27, color=TICK_TXT, family=FONT),
            ticks="", showgrid=True, gridcolor=GRID, gridwidth=2.4,
            minor=dict(tickmode="array", tickvals=[1.25, 3.75, 6.25, 8.75],
                       showgrid=True, gridcolor=GRID_MINOR, gridwidth=1.4),
            showline=True, mirror=True, linecolor=BORDER, linewidth=1.3,
            zeroline=False, fixedrange=True,
        )
        pair = SERIES[c][r]
        # shaded CI zones
        for k, vals in enumerate(pair):
            d = list(DATES[:len(vals)])
            hi = [v * (1 + CI_REL) for v in vals]
            lo = [v * (1 - CI_REL) for v in vals]
            fig.add_trace(go.Scatter(
                x=d + d[::-1], y=hi + lo[::-1], xaxis=xa, yaxis=ya,
                mode="lines", line=dict(width=0), fill="toself",
                fillcolor=FILLS[k], showlegend=False, hoverinfo="skip"))
        for k, vals in enumerate(pair):
            d = list(DATES[:len(vals)])
            fig.add_trace(go.Scatter(
                x=d, y=vals, xaxis=xa, yaxis=ya, mode="lines",
                line=dict(color=COLORS[k], width=3.3),
                name=FRACTIONS[k], showlegend=False))

shapes = []
annotations = []
# top strips
for c, site in enumerate(SITES):
    shapes.append(dict(type="rect", xref="paper", yref="paper",
                       x0=px(COL_LEFT[c]), x1=px(COL_LEFT[c] + PANEL_W),
                       y0=py(ROW_TOP[0]), y1=py(STRIP_TOP),
                       line=dict(color=BORDER, width=1.3), fillcolor="white"))
    annotations.append(dict(xref="paper", yref="paper",
                            x=px(COL_LEFT[c] + PANEL_W / 2), y=py((STRIP_TOP + ROW_TOP[0]) / 2),
                            text=site, showarrow=False, xanchor="center", yanchor="middle",
                            font=dict(size=25, color=TXT, family=FONT)))
# left strips: OP with subscript v and superscript assay stacked
OP_SIZE, SCRIPT_SIZE = 25, 18
for r, assay in enumerate(ASSAYS):
    shapes.append(dict(type="rect", xref="paper", yref="paper",
                       x0=px(STRIP_LEFT), x1=px(COL_LEFT[0]),
                       y0=py(ROW_TOP[r] + PANEL_H), y1=py(ROW_TOP[r]),
                       line=dict(color=BORDER, width=1.3), fillcolor="white"))
    cy = ROW_TOP[r] + PANEL_H / 2
    l_op = text_len("OP", OP_SIZE)
    l_sup = text_len(assay, SCRIPT_SIZE)
    start = cy + (l_op + l_sup) / 2
    annotations.append(dict(xref="paper", yref="paper", x=px(172), y=py(start - l_op / 2),
                            text="OP", textangle=-90, showarrow=False,
                            xanchor="center", yanchor="middle",
                            font=dict(size=OP_SIZE, color=TXT, family=FONT)))
    annotations.append(dict(xref="paper", yref="paper", x=px(167), y=py(start - l_op - l_sup / 2),
                            text=assay, textangle=-90, showarrow=False,
                            xanchor="center", yanchor="middle",
                            font=dict(size=SCRIPT_SIZE, color=TXT, family=FONT)))
    annotations.append(dict(xref="paper", yref="paper", x=px(184), y=py(start - l_op - 5.5),
                            text="v", textangle=-90, showarrow=False,
                            xanchor="center", yanchor="middle",
                            font=dict(size=SCRIPT_SIZE, color=TXT, family=FONT)))

annotations.append(dict(xref="paper", yref="paper", x=px(40), y=py(614),
                        text="Oxidative potential (nmol min<sup>\u22121</sup> m<sup>\u22123</sup>)",
                        textangle=-90, showarrow=False, xanchor="center", yanchor="middle",
                        font=dict(size=35, color=TXT, family=FONT)))
annotations.append(dict(xref="paper", yref="paper", x=px(1121), y=py(1307),
                        text="Date", showarrow=False, xanchor="center", yanchor="middle",
                        font=dict(size=35, color=TXT, family=FONT)))
annotations.append(dict(xref="paper", yref="paper", x=px(2047), y=py(1480),
                        text="Shaded zones are 95 % CIs of replicate measurements",
                        showarrow=False, xanchor="right", yanchor="middle",
                        font=dict(size=28.5, color=TXT, family=FONT)))

# legend (drawn by hand to match the key layout)
LEG_Y = 1406
annotations.append(dict(xref="paper", yref="paper", x=px(816), y=py(LEG_Y),
                        text="Particulate fraction", showarrow=False,
                        xanchor="left", yanchor="middle",
                        font=dict(size=35, color=TXT, family=FONT)))
LEG_LINE_X = [1133, 1286]
LEG_TEXT_X = [1198, 1354]
for k in range(2):
    shapes.append(dict(type="line", xref="paper", yref="paper",
                       x0=px(LEG_LINE_X[k]), x1=px(LEG_LINE_X[k] + 44),
                       y0=py(LEG_Y + 1), y1=py(LEG_Y + 1),
                       line=dict(color=COLORS[k], width=3.3)))
    annotations.append(dict(xref="paper", yref="paper", x=px(LEG_TEXT_X[k]), y=py(LEG_Y + 4),
                            text="PM<sub><span style='font-size:19px'>" + FRACTION_SUBS[k] + "</span></sub>",
                            showarrow=False, xanchor="left", yanchor="middle",
                            font=dict(size=30, color=TXT, family=FONT)))

fig.update_layout(
    width=W, height=H,
    margin=dict(l=0, r=0, t=0, b=0, autoexpand=False),
    paper_bgcolor="white", plot_bgcolor="white",
    font=dict(family=FONT, color=TXT),
    shapes=shapes, annotations=annotations, showlegend=False,
    **layout_axes,
)

fig.write_html("out.html")
